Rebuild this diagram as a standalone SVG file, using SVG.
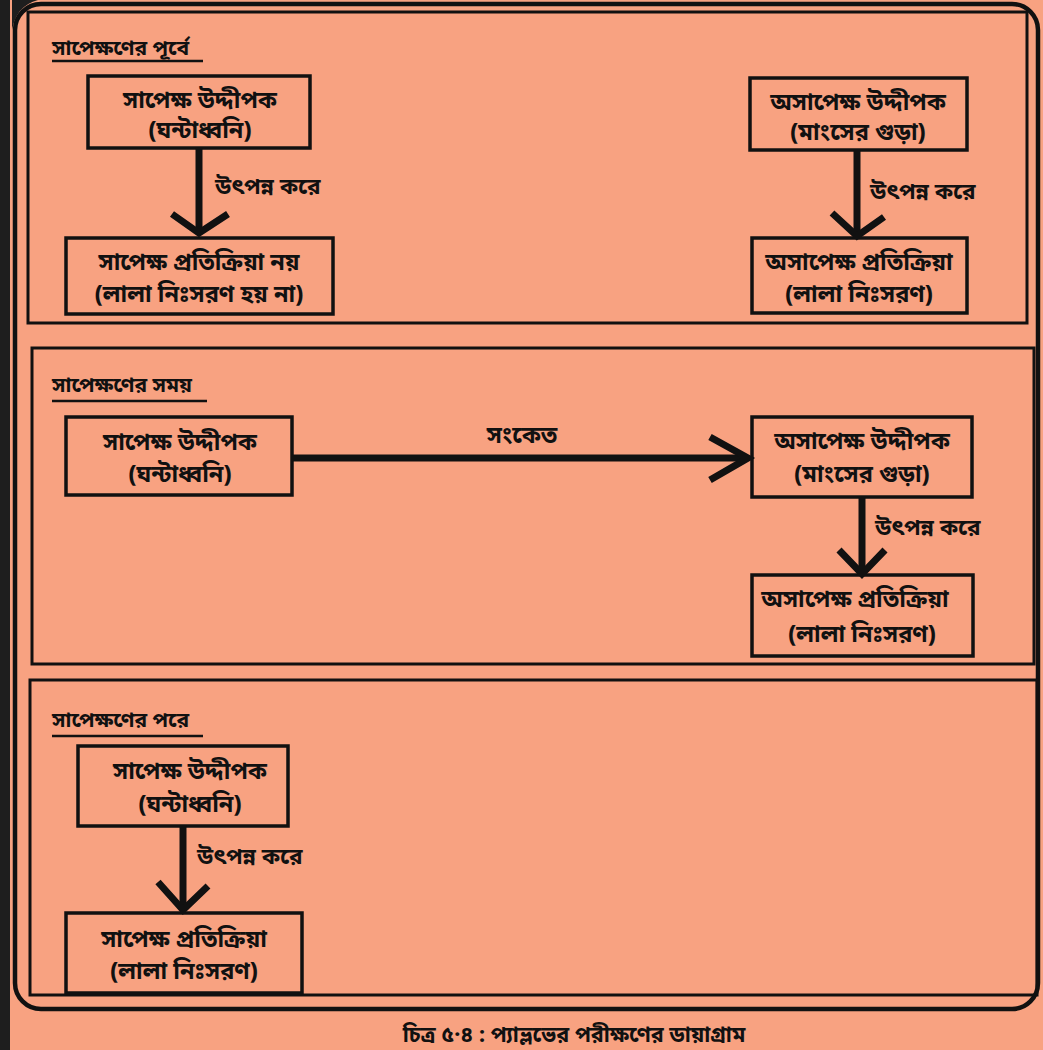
<svg xmlns="http://www.w3.org/2000/svg" width="1043" height="1050" viewBox="0 0 1043 1050">
<defs>
<style>
.t{font-family:"Noto Sans Bengali","Noto Sans","Noto Sans CJK SC",sans-serif;font-size:23.5px;font-weight:bold;fill:#111;text-anchor:middle}
.h{text-anchor:start;font-size:21px}
.lb{text-anchor:start;font-size:22.5px}
.box{fill:none;stroke:#111;stroke-width:3.5}
.panel{fill:none;stroke:#111;stroke-width:3}
.ln{stroke:#111;stroke-width:7;fill:none;stroke-linecap:butt}
.hd{stroke:#111;stroke-width:7;fill:none;stroke-linecap:butt;stroke-linejoin:miter}
.ul{stroke:#111;stroke-width:2.5}
</style>
</defs>
<rect x="0" y="0" width="1043" height="1050" fill="#1e1e1e"/>
<rect x="10" y="0" width="1033" height="1050" fill="#F8A281"/>
<path d="M10,0 H38 Q16,6 12,30 V0 Z" fill="#1e1e1e"/>
<rect x="15" y="4" width="1023" height="1005" rx="26" fill="none" stroke="#111" stroke-width="4.5"/>

<g id="panel-before">
<rect class="panel" x="28" y="12" width="999" height="311"/>
<text class="t h" x="52" y="55">সাপেক্ষণের পূর্বে</text>
<line class="ul" x1="52" y1="61" x2="203" y2="61"/>
</g>
<g id="panel-during">
<rect class="panel" x="32" y="348" width="1002" height="316"/>
<text class="t h" x="52" y="392">সাপেক্ষণের সময়</text>
<line class="ul" x1="52" y1="401" x2="207" y2="401"/>
</g>
<g id="panel-after">
<rect class="panel" x="30" y="680" width="1007" height="315"/>
<text class="t h" x="52" y="727">সাপেক্ষণের পরে</text>
<line class="ul" x1="52" y1="736" x2="203" y2="736"/>
</g>

<g id="n1">
<rect class="box" x="88" y="76" width="222" height="72"/>
<text class="t" x="200" y="108">সাপেক্ষ উদ্দীপক</text>
<text class="t" x="200" y="138">(ঘন্টাধ্বনি)</text>
</g>
<g id="n2">
<rect class="box" x="66" y="238" width="267" height="76"/>
<text class="t" x="199" y="270">সাপেক্ষ প্রতিক্রিয়া নয়</text>
<text class="t" x="199" y="302">(লালা নিঃসরণ হয় না)</text>
</g>
<g id="n3">
<rect class="box" x="750" y="78" width="217" height="72"/>
<text class="t" x="858" y="110">অসাপেক্ষ উদ্দীপক</text>
<text class="t" x="858" y="140">(মাংসের গুড়া)</text>
</g>
<g id="n4">
<rect class="box" x="752" y="238" width="215" height="75"/>
<text class="t" x="859" y="270">অসাপেক্ষ প্রতিক্রিয়া</text>
<text class="t" x="859" y="302">(লালা নিঃসরণ)</text>
</g>
<g id="n5">
<rect class="box" x="66" y="417" width="226" height="78"/>
<text class="t" x="180" y="450">সাপেক্ষ উদ্দীপক</text>
<text class="t" x="180" y="482">(ঘন্টাধ্বনি)</text>
</g>
<g id="n6">
<rect class="box" x="752" y="417" width="220" height="80"/>
<text class="t" x="862" y="449">অসাপেক্ষ উদ্দীপক</text>
<text class="t" x="862" y="482">(মাংসের গুড়া)</text>
</g>
<g id="n7">
<rect class="box" x="752" y="575" width="221" height="81"/>
<text class="t" x="855" y="607">অসাপেক্ষ প্রতিক্রিয়া</text>
<text class="t" x="862" y="642">(লালা নিঃসরণ)</text>
</g>
<g id="n8">
<rect class="box" x="78" y="746" width="210" height="80"/>
<text class="t" x="190" y="779">সাপেক্ষ উদ্দীপক</text>
<text class="t" x="190" y="812">(ঘন্টাধ্বনি)</text>
</g>
<g id="n9">
<rect class="box" x="66" y="913" width="236" height="80"/>
<text class="t" x="184" y="947">সাপেক্ষ প্রতিক্রিয়া</text>
<text class="t" x="184" y="979">(লালা নিঃসরণ)</text>
</g>

<g id="connectors">
<line class="ln" x1="199" y1="148" x2="199" y2="230"/>
<polyline class="hd" points="172,214 199,233 228,214"/>
<text class="t lb" x="215" y="194">উৎপন্ন করে</text>

<line class="ln" x1="857" y1="150" x2="857" y2="234"/>
<polyline class="hd" points="832,213 857,236 884,217"/>
<text class="t lb" x="870" y="199">উৎপন্ন করে</text>

<line class="ln" x1="292" y1="458" x2="746" y2="458"/>
<polyline class="hd" points="710,437 748,458 710,480"/>
<text class="t" x="522" y="443">সংকেত</text>

<line class="ln" x1="862" y1="497" x2="862" y2="570"/>
<polyline class="hd" points="839,550 862,574 885,550"/>
<text class="t lb" x="875" y="535">উৎপন্ন করে</text>

<line class="ln" x1="183" y1="826" x2="183" y2="908"/>
<polyline class="hd" points="158,882 183,910 208,886"/>
<text class="t lb" x="197" y="864">উৎপন্ন করে</text>
</g>

<text class="t" x="574" y="1042" style="font-size:21.5px">চিত্র ৫·৪ : প্যাভ্লভের পরীক্ষণের ডায়াগ্রাম</text>
</svg>
